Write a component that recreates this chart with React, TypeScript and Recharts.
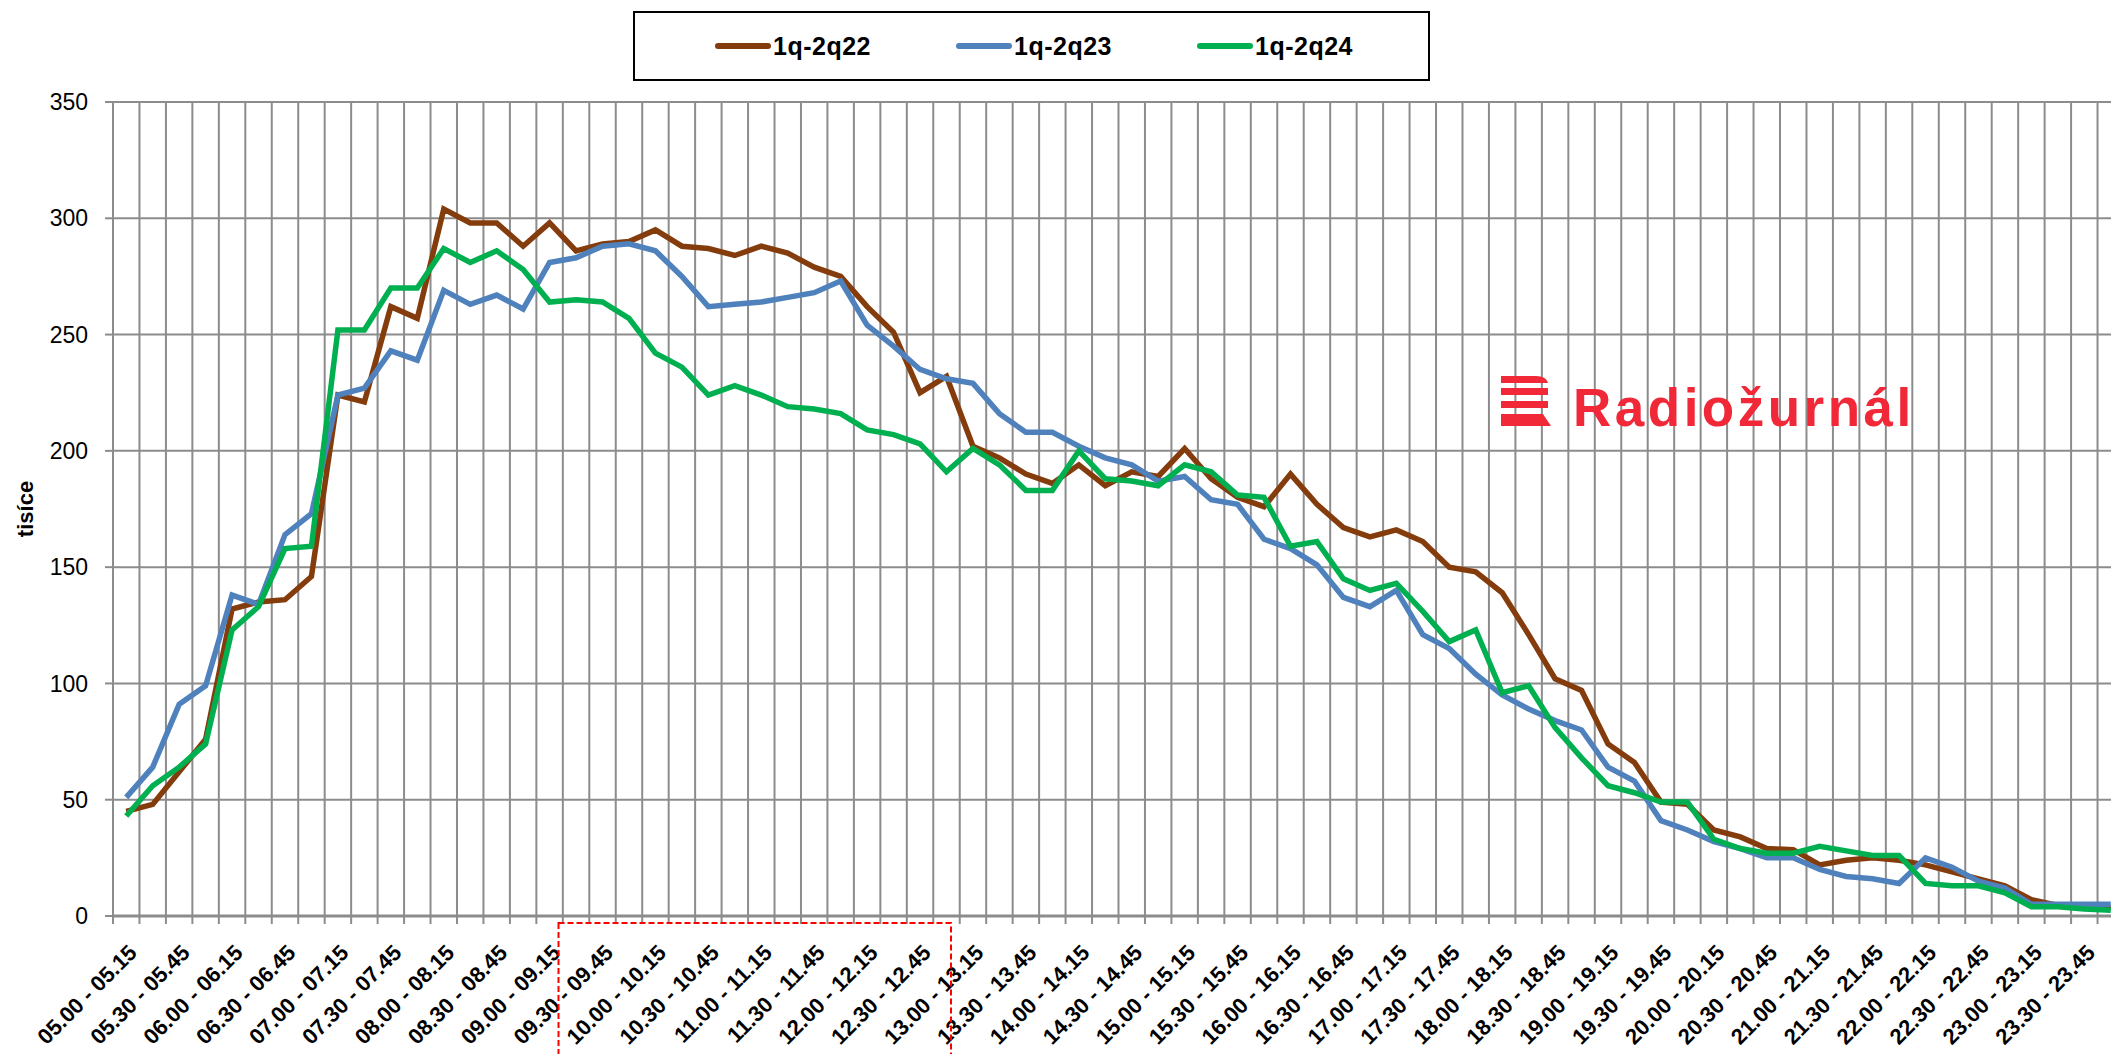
import React from "react";
import { LineChart, Line, XAxis, YAxis, CartesianGrid, Legend } from "recharts";

const slots = [
  "05.00 - 05.15", "05.15 - 05.30", "05.30 - 05.45", "05.45 - 06.00",
  "06.00 - 06.15", "06.15 - 06.30", "06.30 - 06.45", "06.45 - 07.00",
  "07.00 - 07.15", "07.15 - 07.30", "07.30 - 07.45", "07.45 - 08.00",
  "08.00 - 08.15", "08.15 - 08.30", "08.30 - 08.45", "08.45 - 09.00",
  "09.00 - 09.15", "09.15 - 09.30", "09.30 - 09.45", "09.45 - 10.00",
  "10.00 - 10.15", "10.15 - 10.30", "10.30 - 10.45", "10.45 - 11.00",
  "11.00 - 11.15", "11.15 - 11.30", "11.30 - 11.45", "11.45 - 12.00",
  "12.00 - 12.15", "12.15 - 12.30", "12.30 - 12.45", "12.45 - 13.00",
  "13.00 - 13.15", "13.15 - 13.30", "13.30 - 13.45", "13.45 - 14.00",
  "14.00 - 14.15", "14.15 - 14.30", "14.30 - 14.45", "14.45 - 15.00",
  "15.00 - 15.15", "15.15 - 15.30", "15.30 - 15.45", "15.45 - 16.00",
  "16.00 - 16.15", "16.15 - 16.30", "16.30 - 16.45", "16.45 - 17.00",
  "17.00 - 17.15", "17.15 - 17.30", "17.30 - 17.45", "17.45 - 18.00",
  "18.00 - 18.15", "18.15 - 18.30", "18.30 - 18.45", "18.45 - 19.00",
  "19.00 - 19.15", "19.15 - 19.30", "19.30 - 19.45", "19.45 - 20.00",
  "20.00 - 20.15", "20.15 - 20.30", "20.30 - 20.45", "20.45 - 21.00",
  "21.00 - 21.15", "21.15 - 21.30", "21.30 - 21.45", "21.45 - 22.00",
  "22.00 - 22.15", "22.15 - 22.30", "22.30 - 22.45", "22.45 - 23.00",
  "23.00 - 23.15", "23.15 - 23.30", "23.30 - 23.45", "23.45 - 24.00",
];

// tisíce posluchačů
const q22 = [
  45, 48, 62, 76, 132, 135, 136, 146, 224, 221, 262, 257, 304, 298, 298, 288,
  298, 286, 289, 290, 295, 288, 287, 284, 288, 285, 279, 275, 262, 251, 225, 232,
  202, 197, 190, 186, 194, 185, 191, 189, 201, 188, 180, 176, 190, 177, 167, 163,
  166, 161, 150, 148, 139, 121, 102, 97, 74, 66, 49, 48, 37, 34, 29, 28.5,
  22, 24, 25, 24, 22, 19, 16, 13, 7, 4.5, 4, 3.5,
];
const q23 = [
  51, 64, 91, 99, 138, 134, 164, 173, 224, 227, 243, 239, 269, 263, 267, 261,
  281, 283, 288, 289, 286, 275, 262, 263, 264, 266, 268, 273, 254, 245, 235, 231,
  229, 216, 208, 208, 202, 197, 194, 187, 189, 179, 177, 162, 158, 151, 137, 133,
  140, 121, 115, 104, 95, 89, 84, 80, 64, 58, 41, 37, 32, 29, 25, 25,
  20, 17, 16, 14, 25, 21, 15, 12, 5, 5, 5, 5,
];
const q24 = [
  43, 56, 64, 74, 123, 133, 158, 159, 252, 252, 270, 270, 287, 281, 286, 278,
  264, 265, 264, 257, 242, 236, 224, 228, 224, 219, 218, 216, 209, 207, 203, 191,
  201, 194, 183, 183, 200, 188, 187, 185, 194, 191, 181, 180, 159, 161, 145, 140,
  143, 131, 118, 123, 96, 99, 81, 68, 56, 53, 49, 49, 33, 29, 27, 27,
  30, 28, 26, 26, 14, 13, 13, 10, 4, 4, 3, 2.5,
];

const yTicks = [0, 50, 100, 150, 200, 250, 300, 350];
const seriesKeys = ["q22", "q23", "q24"];
const seriesNames = ["1q-2q22", "1q-2q23", "1q-2q24"];
const seriesColors = ["#843c0c", "#4f81bd", "#00b050"];

const data = slots.map((slot, i) => ({ slot, q22: q22[i], q23: q23[i], q24: q24[i] }));

const FONT = "'Liberation Sans', Arial, sans-serif";
const W = 2124;
const H = 1054;
const TOP = 102;
const YW = 113;
const XH = 138;
const HALF = (W - YW) / slots.length / 2;
const GRID = "#8c8c8c";

const SlotTick = (props: any) => {
  const { x, y, payload, index } = props;
  const bx = x - HALF;
  return (
    <g>
      <line x1={bx} x2={bx} y1={y - 8} y2={y} stroke={GRID} strokeWidth={2} />
      {index % 2 === 0 && (
        <text
          transform={`translate(${x + 12},${y + 30}) rotate(-45)`}
          textAnchor="end"
          fontSize={22}
          fontWeight={700}
          fill="#000"
          fontFamily={FONT}
        >
          {payload.value}
        </text>
      )}
    </g>
  );
};

const LegendBox = () => (
  <div
    style={{
      boxSizing: "border-box",
      width: 797,
      height: 70,
      border: "2px solid #000",
      background: "#fff",
      display: "flex",
      alignItems: "center",
      paddingLeft: 80,
      fontFamily: FONT,
    }}
  >
    {seriesNames.map((n, i) => (
      <div key={n} style={{ display: "flex", alignItems: "center", width: 241, flex: "none" }}>
        <span style={{ display: "block", width: 56, height: 6, borderRadius: 3, background: seriesColors[i] }} />
        <span style={{ fontWeight: 700, fontSize: 25, letterSpacing: 0.5, marginLeft: 2, color: "#000" }}>{n}</span>
      </div>
    ))}
  </div>
);

const App = () => (
  <div style={{ position: "absolute", left: 0, top: 0, width: 2111, height: 1054, overflow: "hidden", background: "#fff" }}>
    <LineChart
      width={W}
      height={H}
      data={data}
      margin={{ top: TOP, right: 0, bottom: 0, left: 0 }}
      style={{ fontFamily: FONT }}
    >
      <CartesianGrid
        stroke={GRID}
        strokeWidth={2}
        verticalCoordinatesGenerator={({ offset }: any) =>
          slots.map((_, k) => offset.left + (k * offset.width) / slots.length).concat(offset.left + offset.width)
        }
      />
      <XAxis
        dataKey="slot"
        scale="band"
        interval={0}
        height={XH}
        tickSize={8}
        tickMargin={0}
        tickLine={false}
        axisLine={{ stroke: GRID, strokeWidth: 3 }}
        tick={<SlotTick />}
      />
      <YAxis
        width={YW}
        domain={[0, 350]}
        ticks={yTicks}
        interval={0}
        axisLine={false}
        tickSize={8}
        tickMargin={17}
        tickLine={{ stroke: GRID, strokeWidth: 2 }}
        tick={{ fontSize: 23, fill: "#000", fontFamily: FONT }}
        label={({ viewBox }: any) => {
          const cx = viewBox.x + 25;
          const cy = viewBox.y + viewBox.height / 2;
          return (
            <text
              x={cx}
              y={cy}
              transform={`rotate(-90, ${cx}, ${cy})`}
              textAnchor="middle"
              dominantBaseline="central"
              fontSize={22}
              fontWeight={700}
              fill="#000"
              fontFamily={FONT}
            >
              tisíce
            </text>
          );
        }}
      />
      <Legend
        content={<LegendBox />}
        layout="horizontal"
        verticalAlign="middle"
        align="center"
        wrapperStyle={{ top: 11, left: 633, width: 797, height: 70 }}
      />
      {seriesKeys.map((k, i) => (
        <Line
          key={k}
          type="linear"
          dataKey={k}
          name={seriesNames[i]}
          stroke={seriesColors[i]}
          strokeWidth={5.5}
          dot={false}
          activeDot={false}
          isAnimationActive={false}
        />
      ))}
    </LineChart>
    <svg
      width={2111}
      height={1054}
      style={{ position: "absolute", left: 0, top: 0, pointerEvents: "none" }}
    >
      <g fill="#f02838">
        <path d="M1501 376 H1536 Q1546 376 1548 383 H1501 Z" />
        <rect x={1501} y={388} width={47} height={7} />
        <rect x={1501} y={401} width={47} height={7} />
        <path d="M1501 414 H1543 L1551 426 H1501 Z" />
      </g>
      <text x={1573} y={426} fontSize={53} fontWeight={700} fill="#f02838" letterSpacing={3.5} fontFamily={FONT}>
        Radiožurnál
      </text>
      <rect x={558.5} y={923} width={392.5} height={200} fill="none" stroke="#ff0000" strokeWidth={2} strokeDasharray="6 3" />
    </svg>
  </div>
);

export default App;
